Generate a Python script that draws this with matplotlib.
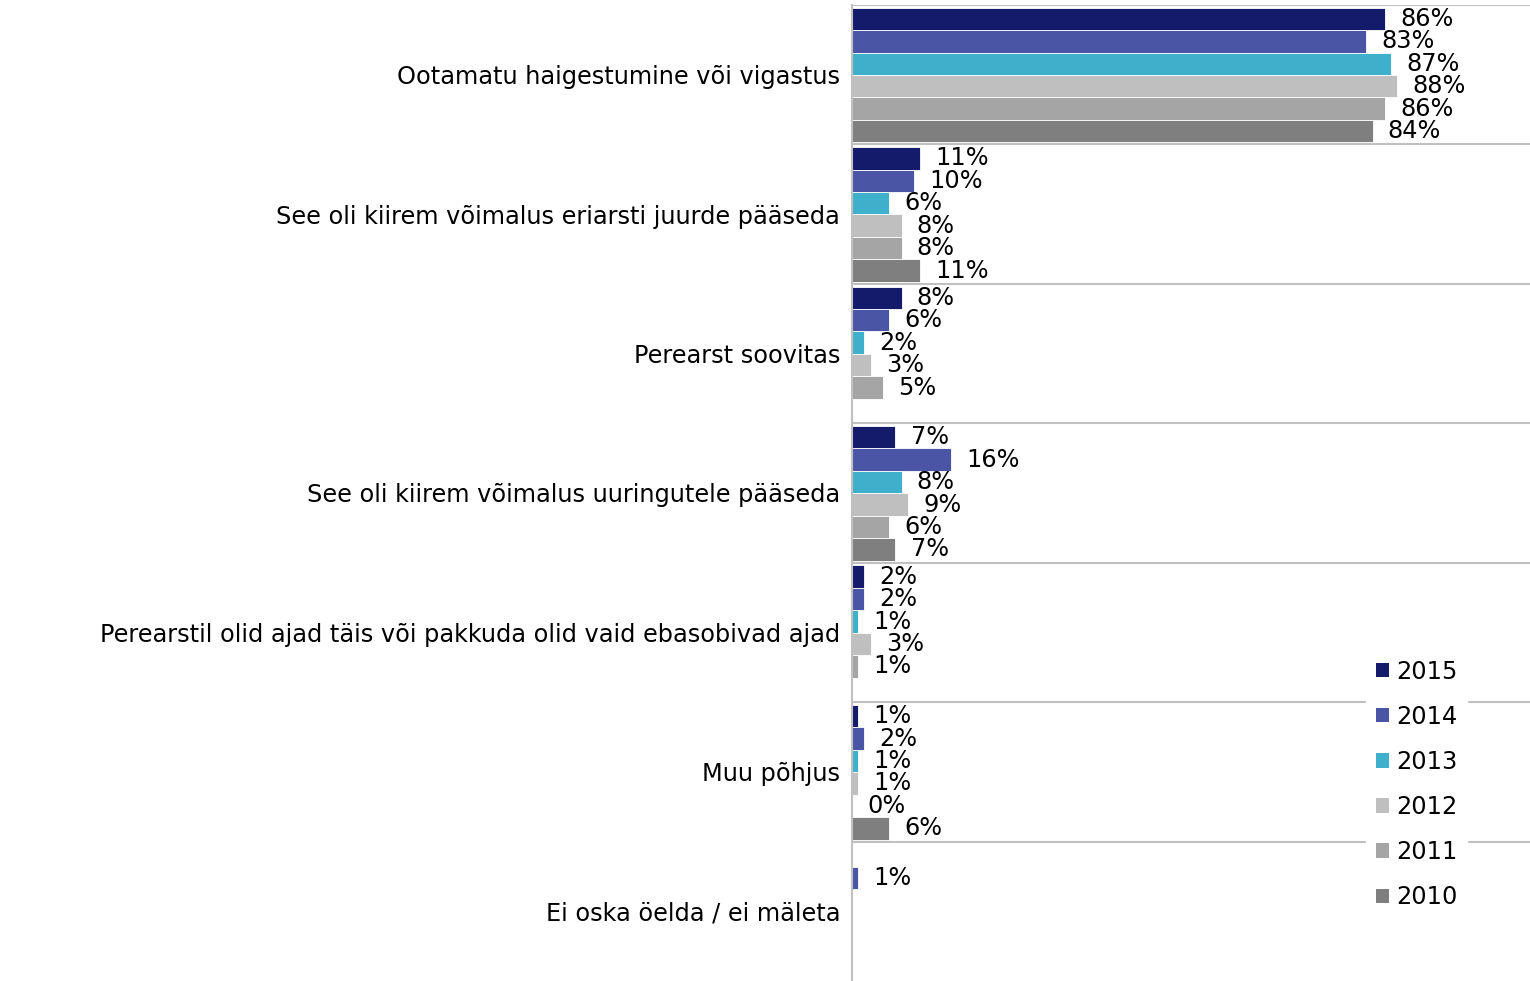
import numpy as np
import matplotlib.pyplot as plt
from matplotlib.patches import Patch

# Survey answers (share of respondents, %) per year
categories = [
    "Ootamatu haigestumine või vigastus",
    "See oli kiirem võimalus eriarsti juurde pääseda",
    "Perearst soovitas",
    "See oli kiirem võimalus uuringutele pääseda",
    "Perearstil olid ajad täis või pakkuda olid vaid ebasobivad ajad",
    "Muu põhjus",
    "Ei oska öelda / ei mäleta",
]
years = ["2015", "2014", "2013", "2012", "2011", "2010"]

v2015 = [86, 11, 8, 7, 2, 1, None]
v2014 = [83, 10, 6, 16, 2, 2, 1]
v2013 = [87, 6, 2, 8, 1, 1, None]
v2012 = [88, 8, 3, 9, 3, 1, None]
v2011 = [86, 8, 5, 6, 1, 0, None]
v2010 = [84, 11, None, 7, None, 6, None]
series = [v2015, v2014, v2013, v2012, v2011, v2010]

colors = ["#141b6b", "#4a55a6", "#3fb0cc", "#bfbfbf", "#a5a5a5", "#7f7f7f"]

FS = 17.3

plt.rcParams['font.family'] = ['DejaVu Sans']
fig = plt.figure(figsize=(15.3, 9.81), dpi=100)
ax = fig.add_axes([852 / 1530, 0.0, 1 - 852 / 1530, 0.995])

n = len(categories)
bar_h = 0.161
for i, (vals, col) in enumerate(zip(series, colors)):
    for j, v in enumerate(vals):
        if v is None:
            continue
        # group j occupies [n-1-j, n-j]; bars stacked top to bottom
        yc = (n - j) - 0.02 - bar_h * (i + 0.5)
        ax.barh(yc, v, height=bar_h, color=col, edgecolor="white", linewidth=0.6)
        ax.annotate(f"{v}%", xy=(v, yc), xytext=(11, 0), textcoords="offset points",
                    va="center", ha="left", fontsize=FS, color="black")

ax.set_xlim(0, 109.4)
ax.set_ylim(0, n)
ax.set_yticks([n - j - 0.5 for j in range(n)])
ax.set_yticklabels(categories, fontsize=FS)
ax.tick_params(axis="y", length=0, pad=8.5)
ax.set_xticks([])

for k in range(1, n + 1):
    ax.axhline(k, color="#c0c0c0", linewidth=1.5, zorder=0)

for s in ["top", "right", "bottom"]:
    ax.spines[s].set_visible(False)
ax.spines["left"].set_color("#c0c0c0")
ax.spines["left"].set_linewidth(1.5)

handles = [Patch(facecolor=c, edgecolor="none") for c in colors]
leg = fig.legend(handles, years, loc="upper left",
                 bbox_to_anchor=(1366 / 1530, 1 - 650 / 981),
                 frameon=True, fontsize=FS, handlelength=0.55, handleheight=0.55,
                 handletextpad=0.3, labelspacing=0.88, borderpad=0.4,
                 borderaxespad=0, fancybox=False)
leg.get_frame().set_edgecolor("white")
leg.get_frame().set_facecolor("white")
leg.get_frame().set_alpha(1.0)

fig.savefig("out.png", dpi=100)
